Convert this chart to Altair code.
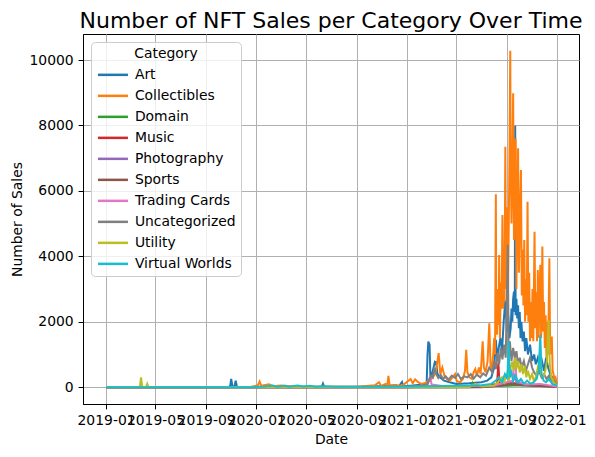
import altair as alt
import pandas as pd

categories = ["Art", "Collectibles", "Domain", "Music", "Photography",
              "Sports", "Trading Cards", "Uncategorized", "Utility", "Virtual Worlds"]
colors = ["#1f77b4", "#ff7f0e", "#2ca02c", "#d62728", "#9467bd",
          "#8c564b", "#e377c2", "#7f7f7f", "#bcbd22", "#17becf"]

# (date, sales)
art = [
    ("2019-01-01", 0), ("2019-10-27", 0), ("2019-10-30", 60), ("2019-11-01", 250),
    ("2019-11-04", 20), ("2019-11-09", 30), ("2019-11-12", 200), ("2019-11-15", 5),
    ("2020-03-01", 10), ("2020-06-08", 10), ("2020-06-11", 110), ("2020-06-14", 10),
    ("2020-10-01", 15), ("2020-12-05", 60), ("2020-12-12", 20), ("2020-12-20", 160),
    ("2020-12-23", 30), ("2021-01-15", 50), ("2021-02-10", 80), ("2021-02-18", 150),
    ("2021-02-20", 1000), ("2021-02-22", 1395), ("2021-02-25", 1300), ("2021-02-27", 300),
    ("2021-03-03", 400), ("2021-03-07", 620), ("2021-03-10", 780), ("2021-03-13", 760),
    ("2021-03-16", 420), ("2021-03-22", 300), ("2021-04-01", 200), ("2021-04-15", 150),
    ("2021-05-01", 100), ("2021-06-01", 120), ("2021-07-01", 150), ("2021-07-15", 200),
    ("2021-07-25", 300), ("2021-08-01", 600), ("2021-08-05", 1450), ("2021-08-08", 900),
    ("2021-08-12", 1200), ("2021-08-16", 1500), ("2021-08-20", 1100), ("2021-08-24", 2000),
    ("2021-08-28", 2650), ("2021-09-01", 1700), ("2021-09-04", 2200), ("2021-09-07", 1500),
    ("2021-09-10", 1800), ("2021-09-12", 2400), ("2021-09-14", 2000), ("2021-09-16", 2700),
    ("2021-09-18", 2920), ("2021-09-20", 2300), ("2021-09-21", 7990), ("2021-09-22", 2200),
    ("2021-09-24", 2700), ("2021-09-26", 2100), ("2021-09-28", 2500), ("2021-09-30", 1800),
    ("2021-10-02", 2300), ("2021-10-04", 1500), ("2021-10-06", 2000), ("2021-10-09", 1400),
    ("2021-10-12", 1700), ("2021-10-15", 1100), ("2021-10-18", 1500), ("2021-10-22", 1000),
    ("2021-10-27", 1300), ("2021-11-01", 800), ("2021-11-06", 1000), ("2021-11-10", 700),
    ("2021-11-15", 900), ("2021-11-20", 600), ("2021-11-25", 800), ("2021-11-30", 500),
    ("2021-12-05", 900), ("2021-12-10", 600), ("2021-12-15", 400), ("2021-12-20", 300),
    ("2021-12-25", 200), ("2021-12-31", 100),
]

collectibles = [
    ("2019-01-01", 0), ("2019-06-01", 5), ("2019-12-20", 10), ("2020-01-05", 60),
    ("2020-01-09", 170), ("2020-01-13", 40), ("2020-02-01", 90), ("2020-02-10", 30),
    ("2020-03-01", 50), ("2020-04-01", 20), ("2020-06-01", 15), ("2020-09-01", 10),
    ("2020-10-15", 60), ("2020-10-25", 150), ("2020-10-30", 40), ("2020-11-10", 100),
    ("2020-11-14", 30), ("2020-11-17", 345), ("2020-11-20", 40), ("2020-12-05", 60),
    ("2020-12-20", 40), ("2021-01-10", 250), ("2021-01-15", 120), ("2021-01-21", 240),
    ("2021-01-28", 150), ("2021-02-05", 100), ("2021-02-15", 130), ("2021-02-25", 200),
    ("2021-03-05", 300), ("2021-03-12", 450), ("2021-03-19", 1040), ("2021-03-23", 400),
    ("2021-03-28", 600), ("2021-04-02", 350), ("2021-04-08", 250), ("2021-04-15", 200),
    ("2021-04-22", 300), ("2021-04-28", 400), ("2021-05-02", 180), ("2021-05-10", 150),
    ("2021-05-17", 250), ("2021-05-22", 500), ("2021-05-25", 1140), ("2021-05-28", 450),
    ("2021-06-02", 300), ("2021-06-08", 250), ("2021-06-12", 450), ("2021-06-16", 550),
    ("2021-06-20", 350), ("2021-06-25", 600), ("2021-06-29", 400), ("2021-07-04", 1400),
    ("2021-07-07", 600), ("2021-07-11", 450), ("2021-07-16", 800), ("2021-07-20", 1950),
    ("2021-07-23", 700), ("2021-07-26", 500), ("2021-07-29", 900), ("2021-08-01", 1500),
    ("2021-08-03", 1000), ("2021-08-05", 5900), ("2021-08-06", 2200), ("2021-08-08", 1600),
    ("2021-08-10", 3000), ("2021-08-12", 1900), ("2021-08-13", 4040), ("2021-08-15", 1500),
    ("2021-08-17", 3200), ("2021-08-19", 2400), ("2021-08-21", 5260), ("2021-08-23", 2400),
    ("2021-08-25", 4000), ("2021-08-26", 2600), ("2021-08-28", 7350), ("2021-08-30", 3000),
    ("2021-09-01", 5500), ("2021-09-03", 2500), ("2021-09-05", 4500), ("2021-09-07", 7000),
    ("2021-09-09", 10280), ("2021-09-10", 7000), ("2021-09-12", 5000), ("2021-09-14", 6500),
    ("2021-09-16", 8980), ("2021-09-18", 4500), ("2021-09-20", 7000), ("2021-09-22", 7600),
    ("2021-09-24", 3000), ("2021-09-26", 5500), ("2021-09-28", 7300), ("2021-09-30", 3500),
    ("2021-10-02", 5000), ("2021-10-05", 6640), ("2021-10-07", 2800), ("2021-10-09", 4200),
    ("2021-10-11", 2500), ("2021-10-13", 4500), ("2021-10-15", 2000), ("2021-10-17", 3300),
    ("2021-10-19", 2200), ("2021-10-21", 5670), ("2021-10-23", 2000), ("2021-10-25", 3500),
    ("2021-10-27", 1400), ("2021-10-29", 2600), ("2021-10-31", 1500), ("2021-11-02", 3000),
    ("2021-11-04", 1400), ("2021-11-07", 4750), ("2021-11-09", 1800), ("2021-11-11", 2900),
    ("2021-11-13", 1400), ("2021-11-15", 3580), ("2021-11-17", 1500), ("2021-11-19", 2800),
    ("2021-11-21", 3740), ("2021-11-23", 1500), ("2021-11-26", 4300), ("2021-11-28", 1700),
    ("2021-11-30", 2600), ("2021-12-02", 1200), ("2021-12-04", 2200), ("2021-12-06", 900),
    ("2021-12-08", 2000), ("2021-12-10", 1000), ("2021-12-13", 3940), ("2021-12-15", 1000),
    ("2021-12-17", 1200), ("2021-12-19", 1550), ("2021-12-21", 500), ("2021-12-23", 400),
    ("2021-12-25", 250), ("2021-12-28", 300), ("2021-12-31", 130),
]

domain = [
    ("2019-01-01", 0), ("2021-05-01", 0), ("2021-06-06", 20), ("2021-06-09", 120),
    ("2021-06-12", 20), ("2021-09-01", 40), ("2021-10-01", 60), ("2021-12-31", 10),
]

music = [
    ("2019-01-01", 0), ("2021-01-01", 0), ("2021-03-15", 30), ("2021-07-01", 30),
    ("2021-08-08", 100), ("2021-08-11", 740), ("2021-08-14", 100), ("2021-09-10", 150),
    ("2021-10-01", 80), ("2021-12-31", 20),
]

photography = [
    ("2019-01-01", 0), ("2021-06-01", 0), ("2021-08-01", 30), ("2021-09-15", 150),
    ("2021-09-20", 350), ("2021-09-25", 100), ("2021-10-15", 80), ("2021-12-31", 10),
]

sports = [
    ("2019-01-01", 0), ("2021-07-01", 0), ("2021-08-20", 50), ("2021-09-10", 100),
    ("2021-10-10", 60), ("2021-12-31", 10),
]

trading_cards = [
    ("2019-01-01", 0), ("2021-01-01", 0), ("2021-02-20", 50), ("2021-02-26", 325),
    ("2021-03-02", 80), ("2021-04-01", 30), ("2021-08-01", 50), ("2021-09-15", 200),
    ("2021-09-21", 1090), ("2021-09-24", 200), ("2021-10-15", 80), ("2021-11-20", 100),
    ("2021-12-31", 20),
]

uncategorized = [
    ("2019-01-01", 0), ("2020-06-01", 0), ("2020-12-01", 10), ("2021-01-15", 20),
    ("2021-02-10", 40), ("2021-02-20", 100), ("2021-02-25", 250), ("2021-03-01", 350),
    ("2021-03-05", 300), ("2021-03-09", 590), ("2021-03-13", 400), ("2021-03-18", 280),
    ("2021-03-24", 380), ("2021-03-30", 250), ("2021-04-05", 330), ("2021-04-12", 230),
    ("2021-04-20", 350), ("2021-04-28", 280), ("2021-05-05", 400), ("2021-05-12", 250),
    ("2021-05-20", 330), ("2021-05-28", 300), ("2021-06-05", 400), ("2021-06-12", 260),
    ("2021-06-20", 380), ("2021-06-28", 300), ("2021-07-05", 420), ("2021-07-12", 350),
    ("2021-07-20", 600), ("2021-07-27", 450), ("2021-08-01", 800), ("2021-08-05", 550),
    ("2021-08-09", 1050), ("2021-08-13", 700), ("2021-08-17", 1200), ("2021-08-21", 850),
    ("2021-08-25", 1300), ("2021-08-29", 900), ("2021-09-03", 4350), ("2021-09-05", 1000),
    ("2021-09-08", 1400), ("2021-09-12", 800), ("2021-09-16", 1200), ("2021-09-20", 900),
    ("2021-09-24", 1100), ("2021-09-28", 700), ("2021-10-02", 900), ("2021-10-07", 600),
    ("2021-10-12", 800), ("2021-10-17", 500), ("2021-10-22", 700), ("2021-10-27", 900),
    ("2021-11-01", 600), ("2021-11-06", 450), ("2021-11-12", 350), ("2021-11-18", 500),
    ("2021-11-24", 300), ("2021-11-30", 400), ("2021-12-06", 250), ("2021-12-12", 350),
    ("2021-12-18", 200), ("2021-12-24", 150), ("2021-12-31", 80),
]

utility = [
    ("2019-01-01", 0), ("2019-03-24", 0), ("2019-03-27", 300), ("2019-03-30", 0),
    ("2019-04-08", 0), ("2019-04-11", 100), ("2019-04-14", 0), ("2021-06-01", 0),
    ("2021-06-16", 100), ("2021-07-01", 20), ("2021-08-01", 50), ("2021-08-10", 150),
    ("2021-08-20", 300), ("2021-08-25", 150), ("2021-09-01", 400), ("2021-09-06", 200),
    ("2021-09-10", 600), ("2021-09-14", 780), ("2021-09-17", 500), ("2021-09-21", 900),
    ("2021-09-24", 550), ("2021-09-28", 800), ("2021-10-02", 450), ("2021-10-06", 700),
    ("2021-10-10", 400), ("2021-10-14", 650), ("2021-10-18", 300), ("2021-10-22", 500),
    ("2021-10-27", 250), ("2021-11-01", 400), ("2021-11-05", 200), ("2021-11-10", 300),
    ("2021-11-15", 600), ("2021-11-19", 830), ("2021-11-23", 400), ("2021-11-28", 300),
    ("2021-12-03", 500), ("2021-12-07", 800), ("2021-12-11", 2050), ("2021-12-14", 700),
    ("2021-12-18", 300), ("2021-12-24", 150), ("2021-12-31", 50),
]

virtual_worlds = [
    ("2019-01-01", 0), ("2019-12-20", 0), ("2020-01-20", 20), ("2020-02-10", 50),
    ("2020-02-20", 15), ("2020-03-10", 45), ("2020-03-20", 10), ("2020-04-10", 50),
    ("2020-04-25", 20), ("2020-05-10", 40), ("2020-05-25", 15), ("2020-06-15", 30),
    ("2020-07-10", 10), ("2020-09-01", 10), ("2020-12-01", 15), ("2021-03-01", 30),
    ("2021-05-01", 40), ("2021-06-01", 50), ("2021-07-01", 60), ("2021-07-25", 100),
    ("2021-08-05", 200), ("2021-08-12", 300), ("2021-08-20", 150), ("2021-08-27", 400),
    ("2021-09-02", 250), ("2021-09-05", 1400), ("2021-09-08", 300), ("2021-09-12", 450),
    ("2021-09-16", 200), ("2021-09-22", 350), ("2021-09-28", 150), ("2021-10-05", 250),
    ("2021-10-12", 100), ("2021-10-20", 200), ("2021-10-28", 100), ("2021-11-05", 150),
    ("2021-11-12", 250), ("2021-11-17", 500), ("2021-11-21", 1600), ("2021-11-24", 400),
    ("2021-11-29", 200), ("2021-12-05", 150), ("2021-12-12", 250), ("2021-12-20", 100),
    ("2021-12-31", 50),
]

series = [art, collectibles, domain, music, photography,
          sports, trading_cards, uncategorized, utility, virtual_worlds]

rows = []
for cat, pts in zip(categories, series):
    for d, v in pts:
        rows.append({"Date": d, "Sales": v, "Category": cat})
df = pd.DataFrame(rows)

FONT = "DejaVu Sans"
x_ticks = [alt.DateTime(year=y, month=m, date=1, utc=True)
           for y in (2019, 2020, 2021) for m in (1, 5, 9)] + \
          [alt.DateTime(year=2022, month=1, date=1, utc=True)]

chart = alt.Chart(df).mark_line(strokeWidth=2, clip=True).encode(
    x=alt.X("Date:T",
            scale=alt.Scale(type="utc",
                            domain=[alt.DateTime(year=2018, month=11, date=6, utc=True),
                                    alt.DateTime(year=2022, month=2, date=23, utc=True)]),
            axis=alt.Axis(values=x_ticks,
                          labelExpr="utcFormat(datum.value, '%Y-%m')",
                          labelOverlap=False, labelBound=False, labelFlush=False,
                          title="Date")),
    y=alt.Y("Sales:Q",
            scale=alt.Scale(domain=[-515, 10795], nice=False, zero=False),
            axis=alt.Axis(values=[0, 2000, 4000, 6000, 8000, 10000], format="d",
                          title="Number of Sales")),
    color=alt.Color("Category:N",
                    scale=alt.Scale(domain=categories, range=colors),
                    legend=alt.Legend(title="Category", orient="top-left", offset=8,
                                      symbolType="M-1,0H5", symbolSize=100,
                                      symbolStrokeWidth=2.5, labelFontSize=13.9,
                                      titleFontSize=13.9, titleFontWeight="normal",
                                      titleAnchor="middle", rowPadding=6, padding=5,
                                      labelOffset=25, titlePadding=7,
                                      fillColor="rgba(255,255,255,0.8)",
                                      strokeColor="#cccccc", cornerRadius=4)),
    detail="Category:N",
).properties(
    width=496,
    height=370,
    autosize=alt.AutoSizeParams(type="none"),
    padding={"left": 75, "top": 26, "right": 8, "bottom": 45},
    title=alt.TitleParams("Number of NFT Sales per Category Over Time",
                          fontSize=22, font=FONT, fontWeight="normal",
                          anchor="middle", frame="group", baseline="alphabetic",
                          offset=4, dy=20, color="black"),
).configure_axis(
    labelFont=FONT, titleFont=FONT, labelFontSize=13.9, titleFontSize=13.9,
    titleFontWeight="normal", labelColor="black", titleColor="black",
    domainColor="black", tickColor="black", tickSize=4.9, labelPadding=4.9,
    gridColor="#b0b0b0", gridWidth=1, grid=True, titlePadding=5,
).configure_legend(
    labelFont=FONT, titleFont=FONT, labelColor="black", titleColor="black",
).configure_view(
    stroke="black", strokeWidth=1,
)

chart.save("out.html", embed_options={"renderer": "svg", "actions": False})
